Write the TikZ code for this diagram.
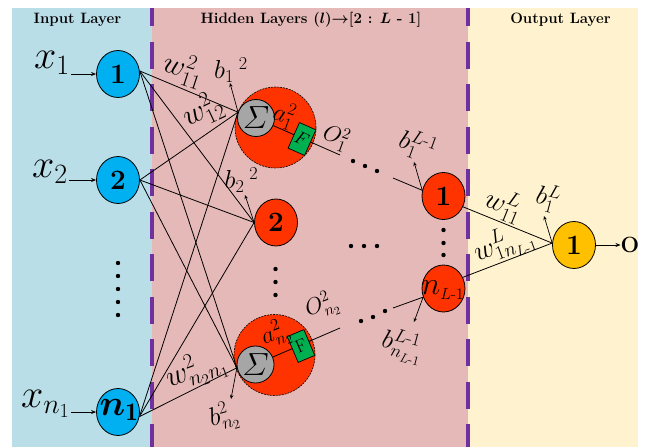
\RequirePackage{fix-cm}
\documentclass[tikz,border=0pt]{standalone}
\usepackage{amsmath}
\usepackage{bm}
\usepackage{fontspec}
\usetikzlibrary{shapes.geometric,arrows.meta}

\definecolor{bginput}{RGB}{185,222,232}
\definecolor{bghidden}{RGB}{229,185,183}
\definecolor{bgoutput}{RGB}{255,242,206}
\definecolor{inblue}{RGB}{0,176,240}
\definecolor{hidred}{RGB}{255,51,0}
\definecolor{outyellow}{RGB}{255,192,0}
\definecolor{sumgray}{RGB}{166,166,166}
\definecolor{actgreen}{RGB}{0,176,80}
\definecolor{sepviolet}{RGB}{112,48,160}

\tikzset{
  lay/.style={font=\fontsize{15}{15}\selectfont\bfseries\boldmath, anchor=base, inner sep=0pt},
  inode/.style={ellipse, draw, line width=0.8pt, fill=inblue, minimum width=43pt,
    minimum height=47pt, inner sep=0pt, font=\fontsize{28}{28}\selectfont\bfseries},
  hnode/.style={inode, fill=hidred},
  onode/.style={inode, fill=outyellow},
  ntext/.style={inner sep=0pt},
  cell/.style={circle, draw, dash pattern=on 2pt off 1pt, line width=0.6pt, fill=hidred,
    minimum size=81pt, inner sep=0pt},
  sumnode/.style={circle, draw, line width=0.8pt, fill=sumgray, minimum size=37pt,
    inner sep=0pt, font=\fontsize{32}{32}\selectfont},
  actbox/.style={rectangle, draw, line width=0.7pt, fill=actgreen, minimum width=18pt,
    minimum height=28pt, inner sep=0pt, font=\fontsize{18}{18}\selectfont},
  wire/.style={line width=0.8pt},
  feed/.style={wire, -{Stealth[length=5pt,width=4pt]}},
  bias/.style={-{Stealth[length=4pt,width=3.5pt]}, line width=0.7pt},
  lbl/.style={inner sep=0pt, font=\fontsize{30}{30}\selectfont},
  blbl/.style={inner sep=0pt, font=\fontsize{26}{26}\selectfont},
  olbl/.style={inner sep=0pt, font=\fontsize{23}{23}\selectfont},
  xlbl/.style={inner sep=0pt, anchor=base east, font=\fontsize{40}{40}\selectfont},
  sep/.style={draw=sepviolet, line width=3.5pt, dash pattern=on 27pt off 15.5pt, dash phase=9pt},
}

\begin{document}
\begin{tikzpicture}[x=1pt,y=-1pt]
\useasboundingbox (0,0) rectangle (652,447);

% layer backgrounds
\fill[bginput]  (12,8) rectangle (152,447);
\fill[bghidden] (152,8) rectangle (468,447);
\fill[bgoutput] (468,8) rectangle (638,447);
\draw[sep] (152,8) -- (152,447);
\draw[sep] (468,8) -- (468,447);

% layer titles
\node[lay] (tin)  at (77.5,23) {Input Layer};
\node[lay] (thid) at (311,23) {Hidden Layers ($\bm{l}$)$\rightarrow$[2 : $\bm{L}$ - 1]};
\node[lay] (tout) at (560.5,23) {Output Layer};

% input layer
\node[inode] (in1) at (118,74)  {1};
\node[inode] (in2) at (118,180) {2};
\node[inode] (in3) at (118,412) {};
\node[ntext, font=\fontsize{36}{36}\selectfont] (in3t) at (119,410) {$\bm{n}_{\mathbf{1}}$};
\foreach \yy in {263,276,289,302,315} \fill (118,\yy) circle (2.2pt);

\node[xlbl] (x1) at (70,68)  {$x_1$};
\node[xlbl] (x2) at (68,177) {$x_2$};
\node[xlbl] (x3) at (70,407) {$x_{n_1}$};
\draw[feed, shorten <=1pt] (x1.east |- in1.west) -- (in1.west);
\draw[feed, shorten <=1pt] (x2.east |- in2.west) -- (in2.west);
\draw[feed, shorten <=1pt] (x3.east |- in3.west) -- (in3.west);

% second layer: expanded neurons and a plain neuron
\node[cell] (c1) at (275.5,127.5) {};
\node[sumnode] (sig1) at (256,118) {$\varSigma$};
\node[hnode] (hid2) at (276,222.5) {2};
\node[cell] (c3) at (274.5,355) {};
\node[sumnode] (sig3) at (255.5,364.5) {$\varSigma$};
\foreach \yy in {269,282,295} \fill (275.5,\yy) circle (2.2pt);

% full connections from the input layer
\foreach \src/\a in {in1/8,in2/0,in3/-12}{
  \draw[wire] (\src.\a) -- (sig1.162);
  \draw[wire] (\src.\a) -- (hid2.west);
  \draw[wire] (\src.\a) -- (sig3.190);
}

% biases of the second layer
\draw[bias] (sig1.162) -- (230,83);
\draw[bias] (hid2.west) -- (245,195);
\draw[bias] (sig3.190) -- (231,399);

% activations and outputs of the second layer
\coordinate (o1end) at (340,155);
\coordinate (o3end) at (340,328);
\draw[wire] (sig1) -- (o1end);
\draw[wire] (sig3) -- (o3end);
\node[actbox, rotate=-24] (f1) at (302,139) {$F$};
\node[actbox, rotate=23] (f3) at (301,346) {F};

% ellipsis dots between the hidden layers
\foreach \xx/\yy in {353/161,365/166,377/171} \fill (\xx,\yy) circle (2.2pt);
\foreach \xx in {351,364,377} \fill (\xx,246) circle (2.2pt);
\foreach \xx/\yy in {361/321,373/317,385/311} \fill (\xx,\yy) circle (2.2pt);

% last hidden layer
\node[hnode] (hl1) at (443.5,196) {1};
\node[hnode] (hln) at (443.5,288.5) {};
\node[ntext, font=\fontsize{32}{32}\selectfont] (hlnt) at (443,290) {$n_{\scriptscriptstyle L\text{-}1}$};
\foreach \yy in {230,243,255} \fill (443.5,\yy) circle (2.2pt);
\coordinate (in1end) at (393,178);
\coordinate (innend) at (393,308);
\draw[wire] (in1end) -- (hl1.165);
\draw[wire] (innend) -- (hln.203);
\draw[bias] (hl1.165) -- (414,162);
\draw[bias] (hln.203) -- (414,322);

% output layer
\node[onode] (out) at (574,245) {1};
\draw[wire] (hl1.-29) -- (out.175);
\draw[wire] (hln.30) -- (out.175);
\draw[bias] (out.175) -- (544,216);
\node[inner sep=0pt, font=\fontsize{22}{22}\selectfont\bfseries] (olbl) at (630,245) {O};
\draw[feed] (out.east) -- (olbl.west);

% weight, bias, activation and output labels
\node[lbl, rotate=-18] (lw11) at (183.5,69) {$w^2_{11}$};
\node[lbl, rotate=25]  (lw12) at (202.5,110) {$w^2_{12}$};
\node[lbl, rotate=20]  (lwn)  at (196,370) {$w^2_{n_2n_1}$};
\node[blbl] (lb1) at (231,70) {$b_1{}^{\;2}$};
\node[blbl] (lb2) at (241.5,180) {$b_2{}^{\;2}$};
\node[blbl, rotate=15] (lbn) at (224,417) {$b^2_{n_2}$};
\node[lbl, font=\fontsize{25}{25}\selectfont, rotate=-20] (la1) at (284,115) {$a^2_1$};
\node[lbl, font=\fontsize{24}{24}\selectfont, rotate=20] (lan) at (276,334) {$a^2_{n_2}$};
\node[olbl, rotate=-20] (lo1) at (336,137.5) {$O^2_1$};
\node[olbl, rotate=20]  (lon) at (322,306) {$O^2_{n_2}$};
\node[blbl, rotate=-20] (lbl1) at (417.5,146) {$b^{L\text{-}1}_1$};
\node[blbl, rotate=-15] (lbln) at (402.5,346) {$b^{L\text{-}1}_{n_{L\text{-}1}}$};
\node[lbl, font=\fontsize{28}{28}\selectfont, rotate=-22] (lw1L) at (504,205) {$w^L_{11}$};
\node[lbl, font=\fontsize{28}{28}\selectfont, rotate=20]  (lwnL) at (504,244) {$w^L_{1n_{L\text{-}1}}$};
\node[blbl, rotate=-15] (lbL) at (548,198) {$b^L_1$};
\end{tikzpicture}
\end{document}
